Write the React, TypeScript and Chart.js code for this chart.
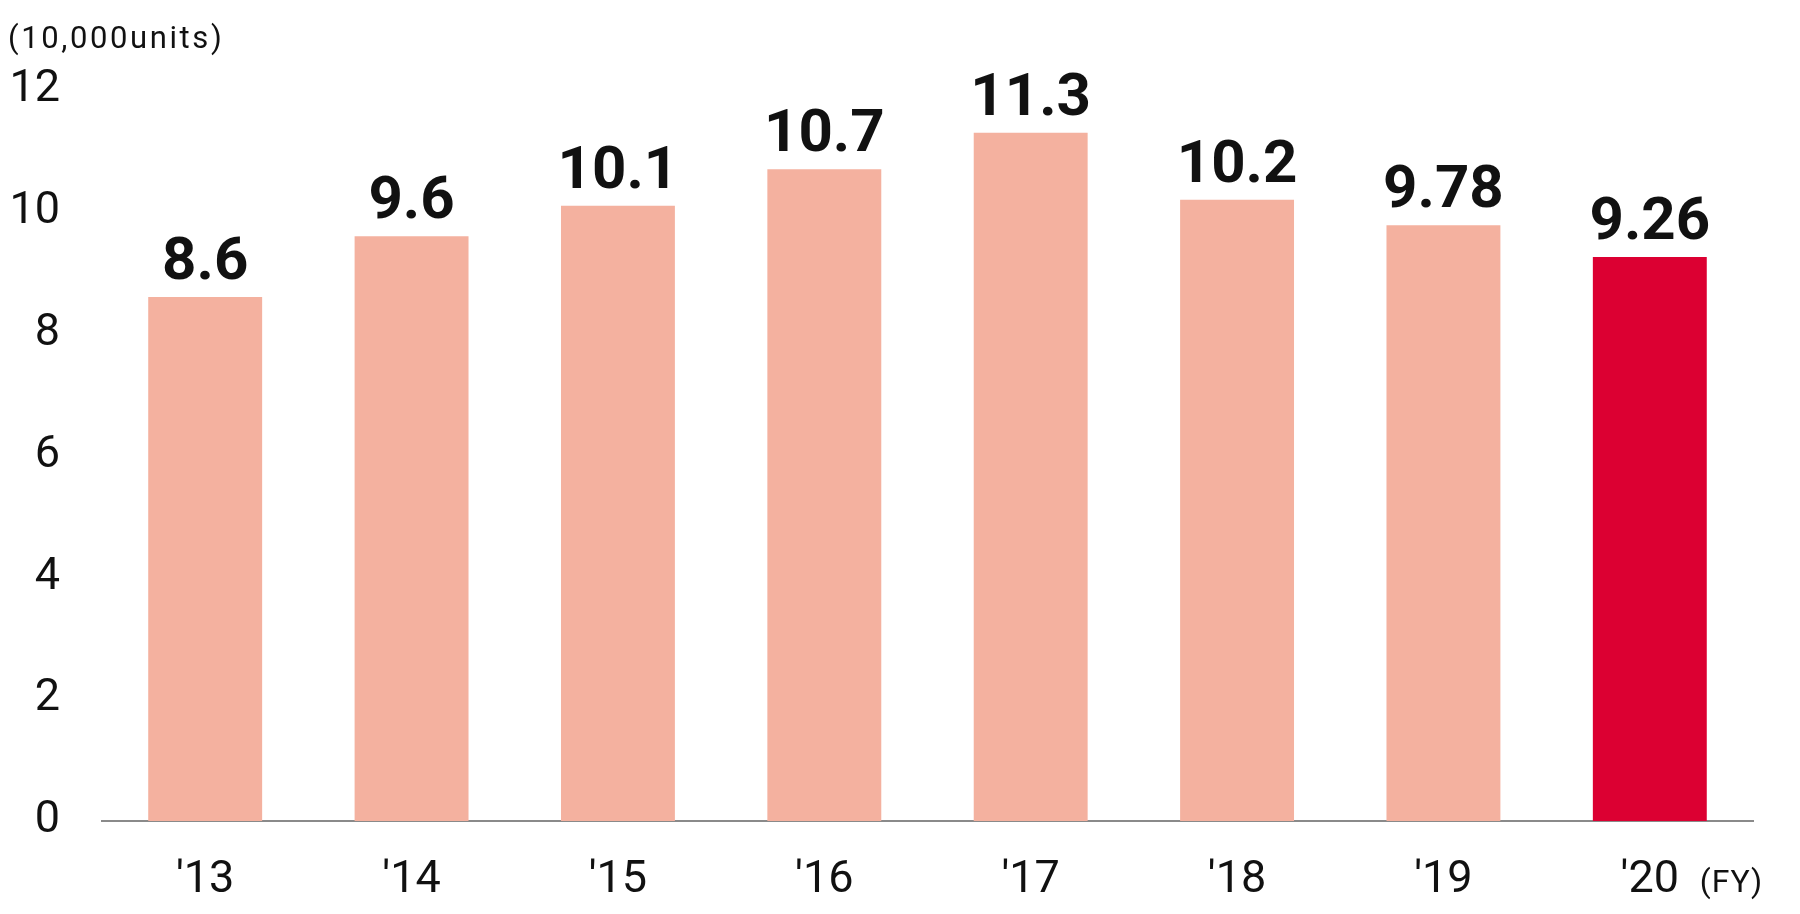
import React, { useEffect, useRef } from "react";
import { Chart, registerables } from "chart.js";

Chart.register(...registerables);

const categories = ["'13", "'14", "'15", "'16", "'17", "'18", "'19", "'20"];
const values = [8.6, 9.6, 10.1, 10.7, 11.3, 10.2, 9.78, 9.26];
const valueLabels = ["8.6", "9.6", "10.1", "10.7", "11.3", "10.2", "9.78", "9.26"];
const barColors = ["#F4B19F", "#F4B19F", "#F4B19F", "#F4B19F", "#F4B19F", "#F4B19F", "#F4B19F", "#DC0032"];
const unitLabel = "(10,000units)";
const fyLabel = "(FY)";

const CANVAS_H = 896;

const overlayPlugin = {
  id: "overlay",
  afterDatasetsDraw(chart: any) {
    const ctx = chart.ctx;
    const meta = chart.getDatasetMeta(0);
    ctx.save();
    ctx.fillStyle = "#111";
    ctx.font = "bold 60px Roboto";
    ctx.textAlign = "center";
    ctx.textBaseline = "alphabetic";
    meta.data.forEach((bar: any, i: number) => {
      ctx.fillText(valueLabels[i], bar.x, bar.y - 18);
    });
    // unit label
    ctx.font = "31px Roboto";
    ctx.textAlign = "left";
    (ctx as any).letterSpacing = "2.6px";
    ctx.fillText(unitLabel, 0, 40);
    (ctx as any).letterSpacing = "1px";
    // FY label
    const xs = chart.scales.x;
    ctx.font = "32px Roboto";
    ctx.fillText(fyLabel, xs.getPixelForValue(categories.length - 1) + 50, 884);
    ctx.restore();
  },
};

export default function App() {
  const ref = useRef<HTMLCanvasElement>(null);
  useEffect(() => {
    if (!ref.current) return;
    const chart = new Chart(ref.current, {
      type: "bar",
      data: {
        labels: categories,
        datasets: [
          {
            data: values,
            backgroundColor: barColors,
            borderWidth: 0,
            categoryPercentage: 1,
            barPercentage: 0.552,
          },
        ],
      },
      options: {
        animation: false,
        responsive: true,
        maintainAspectRatio: false,
        layout: { padding: { top: 82, right: 39, left: 0, bottom: 0 } },
        plugins: {
          legend: { display: false },
          tooltip: { enabled: false },
        },
        scales: {
          x: {
            grid: { display: false, drawTicks: false },
            border: { display: true, color: "#8a8a8a", width: 2 },
            ticks: {
              color: "#111",
              font: { family: "Roboto", size: 45 },
              padding: 33,
              maxRotation: 0,
            },
            afterFit(scale: any) {
              scale.height = CANVAS_H - 813;
            },
          },
          y: {
            min: 0,
            max: 12,
            grid: { display: false, drawTicks: false },
            border: { display: false },
            ticks: {
              stepSize: 2,
              color: "#111",
              font: { family: "Roboto", size: 45 },
              padding: 42,
            },
            afterFit(scale: any) {
              scale.width = 94;
            },
          },
        },
      },
      plugins: [overlayPlugin],
    });
    return () => chart.destroy();
  }, []);
  return (
    <div style={{ width: 1784, height: CANVAS_H, position: "relative" }}>
      <canvas ref={ref} />
    </div>
  );
}
